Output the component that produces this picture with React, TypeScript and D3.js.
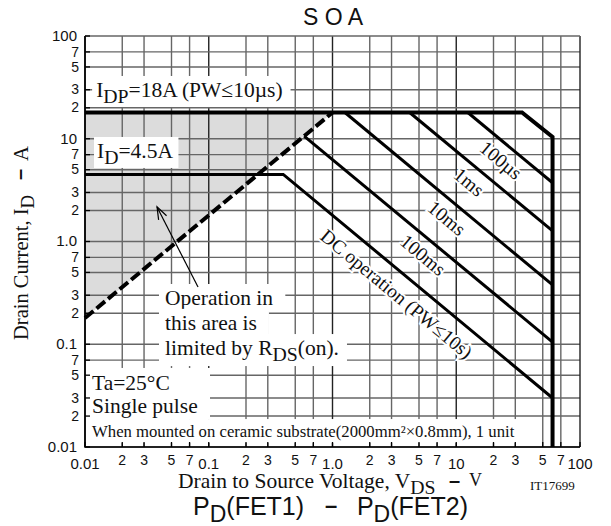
import { useEffect, useRef } from 'react';
import * as d3 from 'd3';

const W = 611;
const H = 526;

// axis ticks
const decades = [0.01, 0.1, 1, 10, 100];
const minorDigits = [2, 3, 5, 7];
const xDecadeLabels = ['0.01', '0.1', '1.0', '10', '100'];
const yDecadeLabels = ['0.01', '0.1', '1.0', '10', '100'];

// SOA boundaries, [V, A] vertices
const idpLine = [[0.01, 18], [34, 18], [60, 10.4], [60, 0.01]];
const dcLine = [[0.01, 4.5], [0.4, 4.5], [60, 0.03]];
const line100ms = [[0.59, 10.6], [60, 0.105]];
const line10ms = [[1.26, 18], [60, 0.378]];
const line1ms = [[4.2, 18], [60, 1.27]];
const line100us = [[12.4, 18], [60, 3.73]];
const rdsLine = [[0.01, 0.18], [1.0, 18]];
const shadeArea = [[0.01, 0.18], [0.01, 18], [1.0, 18]];

const pulseLabels = ['100µs', '1ms', '10ms', '100ms', 'DC operation (PW≤10s)'];
const pulseLabelAt = [[23, 6.2], [12.7, 3.8], [8.4, 1.69], [5.4, 0.74], [3.3, 0.31]];

const SERIF = '"Liberation Serif", "DejaVu Serif", serif';
const SANS = '"Liberation Sans", Arial, sans-serif';

const App = () => {
  const svgRef = useRef(null);

  useEffect(() => {
    const svg = d3.select(svgRef.current);
    svg.selectAll('*').remove();

    const x = d3.scaleLog().domain([0.01, 100]).range([85, 580]);
    const y = d3.scaleLog().domain([0.01, 100]).range([447, 36]);
    const [x0, x1] = x.range();
    const [y0, y1] = y.range();

    const gridVals = [];
    decades.forEach((d, i) => {
      gridVals.push({ v: d, dec: true, label: xDecadeLabels[i], ylabel: yDecadeLabels[i] });
      if (i < decades.length - 1) minorDigits.forEach(m => gridVals.push({ v: d * m, dec: false, label: String(m), ylabel: String(m) }));
    });

    svg.append('rect').attr('width', W).attr('height', H).attr('fill', 'white');

    // shaded Rds(on) region
    svg.append('path')
      .attr('d', d3.line().x(d => x(d[0])).y(d => y(d[1]))(shadeArea) + 'Z')
      .attr('fill', '#dcdcdc');

    // grid
    const grid = svg.append('g');
    gridVals.forEach(g => {
      grid.append('line')
        .attr('x1', x(g.v)).attr('x2', x(g.v)).attr('y1', y1).attr('y2', y0)
        .attr('stroke', g.dec ? '#222' : '#666').attr('stroke-width', 1.4);
      grid.append('line')
        .attr('y1', y(g.v)).attr('y2', y(g.v)).attr('x1', x0).attr('x2', x1)
        .attr('stroke', '#666').attr('stroke-width', 1.4);
    });

    // rich text helper: parts = [text, isSub]; box = [l, t, r, b, rightX?]
    const rich = (g, px, py, parts, size, font, box, anchor = 'start') => {
      const t = g.append('text')
        .attr('x', px).attr('y', py)
        .attr('font-family', font).attr('font-size', size)
        .attr('text-anchor', anchor).attr('fill', '#111');
      let shift = 0;
      parts.forEach(([s, sub]) => {
        const want = sub ? Math.round(size * 0.28) : 0;
        t.append('tspan').attr('dy', want - shift).attr('font-size', sub ? size * 0.92 : size).text(s);
        shift = want;
      });
      if (box) {
        const b = t.node().getBBox();
        const right = box[4] !== undefined ? box[4] : b.x + b.width + box[2];
        g.insert('rect', () => t.node())
          .attr('x', b.x - box[0]).attr('y', b.y - box[1])
          .attr('width', right - (b.x - box[0])).attr('height', b.height + box[1] + box[3])
          .attr('fill', 'white');
      }
      return t;
    };

    const ann = svg.append('g');
    const fs = 21.5;
    rich(ann, x(0.0123), y(25.5), [['I', 0], ['DP', 1], ['=18A (PW≤10µs)', 0]], fs, SERIF, [4, 2, 8, 0]);
    rich(ann, x(0.0125), y(6.5), [['I', 0], ['D', 1], ['=4.5A', 0]], fs, SERIF, [3, 2, 5, 0]);
    rich(ann, x(0.0443), y(0.241), [['Operation in', 0]], fs, SERIF, [6, 2, 12, 1]);
    rich(ann, x(0.0443), y(0.138), [['this area is', 0]], fs, SERIF, [6, 2, 12, 1]);
    rich(ann, x(0.0443), y(0.0785), [['limited by R', 0], ['DS', 1], ['(on).', 0]], fs, SERIF, [6, 2, 8, 1]);
    rich(ann, x(0.0114), y(0.0359), [['Ta=25°C', 0]], fs, SERIF, [6, 3, 0, 1, 210]);
    rich(ann, x(0.0114), y(0.0214), [['Single pulse', 0]], fs, SERIF, [6, 2, 0, 1, 210]);
    rich(ann, x(0.0114), y(0.0125), [['When mounted on ceramic substrate(2000mm²×0.8mm), 1 unit', 0]], 16.7, SERIF, [6, 3, 0, 2, 530]);

    // SOA curves
    const line = d3.line().x(d => x(d[0])).y(d => y(d[1]));
    [dcLine, line100ms, line10ms, line1ms, line100us].forEach(c => {
      svg.append('path').attr('d', line(c)).attr('fill', 'none')
        .attr('stroke', '#000').attr('stroke-width', 3).attr('stroke-linejoin', 'miter');
    });
    svg.append('path').attr('d', line(idpLine)).attr('fill', 'none')
      .attr('stroke', '#000').attr('stroke-width', 4);
    svg.append('path').attr('d', line(rdsLine)).attr('fill', 'none')
      .attr('stroke', '#000').attr('stroke-width', 4).attr('stroke-dasharray', '11 4');

    // arrow
    const ax1 = x(0.0819), ay1 = y(0.36), ax2 = x(0.0382), ay2 = y(2.17);
    svg.append('line').attr('x1', ax1).attr('y1', ay1).attr('x2', ax2).attr('y2', ay2)
      .attr('stroke', '#000').attr('stroke-width', 1.2);
    const ang = Math.atan2(ay1 - ay2, ax1 - ax2);
    const head = [ang - 0.35, ang + 0.35].map(a => [ax2 + 13 * Math.cos(a), ay2 + 13 * Math.sin(a)]);
    svg.append('path')
      .attr('d', `M${head[0][0]},${head[0][1]}L${ax2},${ay2}L${head[1][0]},${head[1][1]}`)
      .attr('fill', 'none').attr('stroke', '#000').attr('stroke-width', 1.2);

    // rotated pulse labels
    const rot = Math.atan2(y(1) - y(10), x(10) - x(1)) * 180 / Math.PI;
    pulseLabels.forEach((s, i) => {
      const [v, a] = pulseLabelAt[i];
      svg.append('text')
        .attr('transform', `translate(${x(v)},${y(a)}) rotate(${rot})`)
        .attr('text-anchor', 'middle').attr('dy', '0.35em')
        .attr('font-family', SERIF).attr('font-size', 19.5).attr('fill', '#111')
        .attr('stroke', 'white').attr('stroke-width', 4).attr('paint-order', 'stroke')
        .text(s);
    });

    // axes frame and inward ticks
    const ax = svg.append('g');
    gridVals.forEach(g => {
      ax.append('line').attr('x1', x(g.v)).attr('x2', x(g.v)).attr('y1', y0).attr('y2', y0 - 5)
        .attr('stroke', '#000').attr('stroke-width', 1.3);
      ax.append('line').attr('y1', y(g.v)).attr('y2', y(g.v)).attr('x1', x0).attr('x2', x0 + 5)
        .attr('stroke', '#000').attr('stroke-width', 1.3);
    });
    ax.append('path').attr('d', `M${x0},${y1}V${y0}H${x1}`).attr('fill', 'none')
      .attr('stroke', '#000').attr('stroke-width', 1.6);

    // tick labels
    gridVals.forEach(g => {
      ax.append('text').attr('x', x(g.v)).attr('y', g.dec ? y0 + 22 : y0 + 18)
        .attr('text-anchor', 'middle').attr('font-family', SANS)
        .attr('font-size', g.dec ? 15 : 14).attr('fill', '#111').text(g.label);
      ax.append('text').attr('x', g.dec ? x0 - 8 : x0 - 6).attr('y', y(g.v)).attr('dy', '0.33em')
        .attr('text-anchor', 'end').attr('font-family', SANS)
        .attr('font-size', g.dec ? 15 : 14).attr('fill', '#111').text(g.ylabel);
    });

    // titles
    svg.append('text').attr('x', 333).attr('y', 25).attr('text-anchor', 'middle')
      .attr('font-family', SANS).attr('font-size', 23).attr('fill', '#111').text('S O A');

    // y title, running upward from bottom
    const yt = svg.append('g').attr('transform', 'translate(28,340) rotate(-90)');
    rich(yt, 0, 0, [['Drain Current, I', 0], ['D', 1]], 20.5, SERIF, null);
    yt.append('text').attr('x', 160).attr('y', -2).attr('font-family', SANS).attr('font-weight', 'bold')
      .attr('font-size', 20).attr('fill', '#111').text('–');
    yt.append('text').attr('x', 179).attr('y', 0).attr('font-family', SERIF)
      .attr('font-size', 20.5).attr('fill', '#111').text('A');

    // x title
    rich(svg, 178, 488, [['Drain to Source Voltage, V', 0], ['DS', 1]], 21.5, SERIF, null);
    svg.append('text').attr('x', 449).attr('y', 487).attr('font-family', SANS).attr('font-weight', 'bold')
      .attr('font-size', 20).attr('fill', '#111').text('–');
    svg.append('text').attr('x', 469).attr('y', 486).attr('font-family', SERIF)
      .attr('font-size', 18).attr('fill', '#111').text('V');
    svg.append('text').attr('x', 530).attr('y', 490).attr('font-family', SERIF)
      .attr('font-size', 13).attr('fill', '#111').text('IT17699');

    // bottom caption
    rich(svg, 193, 515, [['P', 0], ['D', 1], ['(FET1)', 0]], 25, SANS, null);
    svg.append('text').attr('x', 331).attr('y', 513).attr('text-anchor', 'middle').attr('font-family', SANS)
      .attr('font-weight', 'bold').attr('font-size', 22).attr('fill', '#111').text('–');
    rich(svg, 468, 515, [['P', 0], ['D', 1], ['(FET2)', 0]], 25, SANS, null, 'end');
  }, []);

  return <svg ref={svgRef} width={W} height={H} style={{ position: 'absolute', left: 0, top: 0 }} />;
};

export default App;
